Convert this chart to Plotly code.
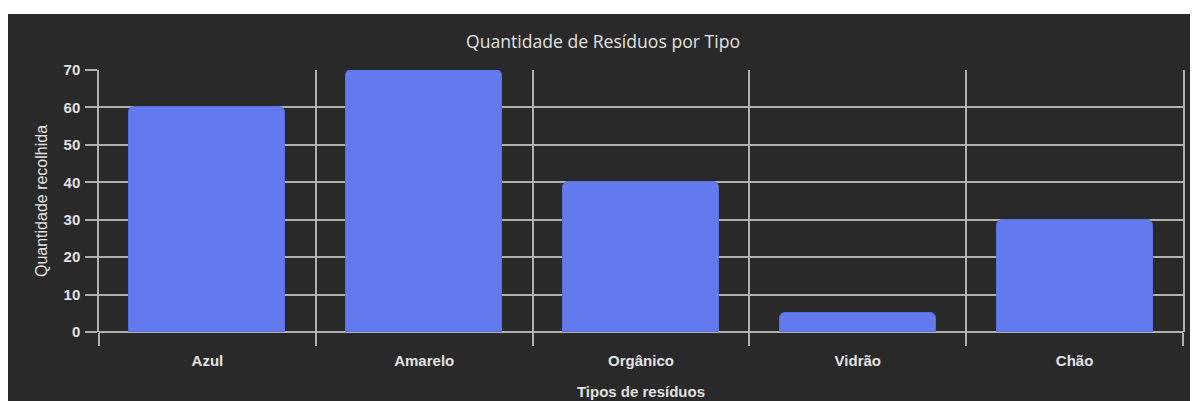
import plotly.graph_objects as go

categorias = ["Azul", "Amarelo", "Orgânico", "Vidrão", "Chão"]
quantidades = [60, 70, 40, 5, 30]
y_ticks = [0, 10, 20, 30, 40, 50, 60, 70]

# page body has an 8px margin; figure sits at (8, 8)
W, H = 1190, 393
L, R, T, B = 91, 15, 62, 69
pw = W - L - R
ph = H - T - B

BG = "#292929"
GRID = "#b0b0b0"
TXT = "#e2e2e2"
BAR = "#6379ee"

fig = go.Figure(go.Bar(
    x=categorias, y=quantidades,
    width=0.72,
    marker=dict(color=BAR, line=dict(color="#5a6fdc", width=1), cornerradius=6),
    hoverinfo="skip",
))

# dark card below a thin white strip at the top
fig.add_shape(type="rect", xref="paper", yref="paper",
              x0=-(L + 5) / pw, x1=1 + (R + 5) / pw,
              y0=-(B + 5) / ph, y1=1 + (T - 6) / ph,
              fillcolor=BG, line=dict(width=0), layer="below")

fig.update_layout(
    width=W, height=H,
    margin=dict(l=L, r=R, t=T, b=B, autoexpand=False),
    paper_bgcolor="white",
    plot_bgcolor=BG,
    showlegend=False,
    bargap=0,
    title=dict(text="Quantidade de Resíduos por Tipo", x=0.5, xanchor="center",
               xref="container", y=1 - 34 / H, yref="container", yanchor="middle",
               font=dict(family="Open Sans", size=17.6, color=TXT)),
    font=dict(family="Liberation Sans", size=15, color=TXT),
)

fig.update_xaxes(
    tickson="boundaries", ticks="outside", ticklen=13, tickcolor=GRID, tickwidth=1.5,
    showgrid=True, gridcolor=GRID, gridwidth=1.5,
    showline=False, range=[-0.5, 4.5],
    ticklabelstandoff=18,
    tickfont=dict(family="Liberation Sans", size=15, color=TXT, weight="bold"),
    title=dict(text="Tipos de resíduos", standoff=18,
               font=dict(family="Liberation Sans", size=15, color=TXT, weight="bold")),
    automargin=False, fixedrange=True,
)
fig.update_yaxes(
    range=[0, 70], tickvals=y_ticks, ticks="outside", ticklen=12, tickcolor=GRID, tickwidth=1.5,
    showgrid=True, gridcolor=GRID, gridwidth=1.5,
    zeroline=True, zerolinecolor=GRID, zerolinewidth=1.5,
    showline=True, linecolor=GRID, linewidth=1.5, mirror=True,
    ticklabelstandoff=2,
    tickfont=dict(family="Liberation Sans", size=15, color=TXT, weight="bold"),
    title=dict(text="Quantidade recolhida", standoff=12,
               font=dict(family="Liberation Sans", size=16, color=TXT)),
    automargin=False, fixedrange=True,
)

fig.write_html("out.html", config={"displayModeBar": False})
